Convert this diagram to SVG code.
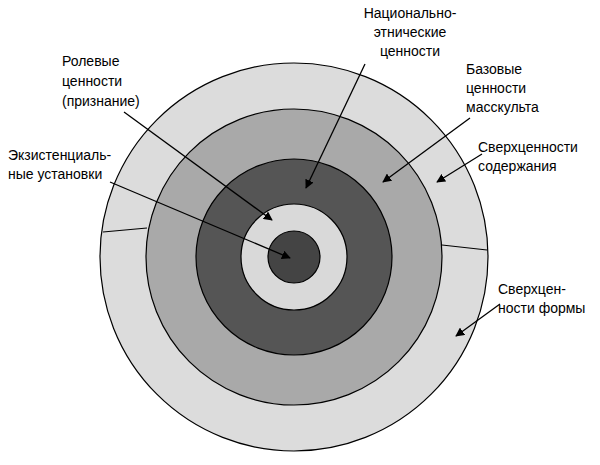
<svg xmlns="http://www.w3.org/2000/svg" width="600" height="465" viewBox="0 0 600 465">
<style>
.r{stroke:#000;stroke-width:1.2}
text{font-family:"Liberation Sans",Arial,sans-serif;font-size:14px;fill:#000}
.c line{stroke:#000;stroke-width:1.3;marker-end:url(#a)}
</style>
<defs><marker id="a" viewBox="0 0 10 10" refX="9" refY="5" markerWidth="9" markerHeight="9" orient="auto" markerUnits="userSpaceOnUse"><path d="M0,0L10,5L0,10z" fill="#000"/></marker></defs>
<rect width="600" height="465" fill="#fff"/>
<g id="outer"><circle class="r" cx="294" cy="257" r="194" fill="#dcdcdc"/>
<line class="r" x1="103" y1="232" x2="147" y2="228"/><line class="r" x1="442" y1="245" x2="487" y2="250"/></g>
<g id="ring2"><circle class="r" cx="294" cy="257" r="148" fill="#a9a9a9"/></g>
<g id="ring3"><circle class="r" cx="294" cy="257" r="98" fill="#555"/></g>
<g id="ring4"><circle class="r" cx="294" cy="257" r="53" fill="#d9d9d9"/></g>
<g id="core"><circle class="r" cx="294" cy="257" r="26" fill="#444"/></g>
<g class="c">
<line x1="365" y1="64" x2="306" y2="188"/>
<line x1="124" y1="112" x2="272" y2="220"/>
<line x1="110" y1="182" x2="290" y2="258"/>
<line x1="470" y1="118" x2="383" y2="182"/>
<line x1="482" y1="154" x2="437" y2="182"/>
<line x1="500" y1="304" x2="456" y2="336"/>
</g>
<g id="labels">
<text x="410" y="18" text-anchor="middle">Национально-</text>
<text x="410" y="37" text-anchor="middle">этнические</text>
<text x="410" y="56" text-anchor="middle">ценности</text>
<text x="62" y="66">Ролевые</text><text x="62" y="86">ценности</text><text x="62" y="106">(признание)</text>
<text x="8" y="160">Экзистенциаль-</text><text x="8" y="179">ные установки</text>
<text x="466" y="74">Базовые</text><text x="466" y="93">ценности</text><text x="466" y="112">масскульта</text>
<text x="478" y="152">Сверхценности</text><text x="478" y="171">содержания</text>
<text x="498" y="294">Сверхцен-</text><text x="498" y="313">ности формы</text>
</g>
</svg>
